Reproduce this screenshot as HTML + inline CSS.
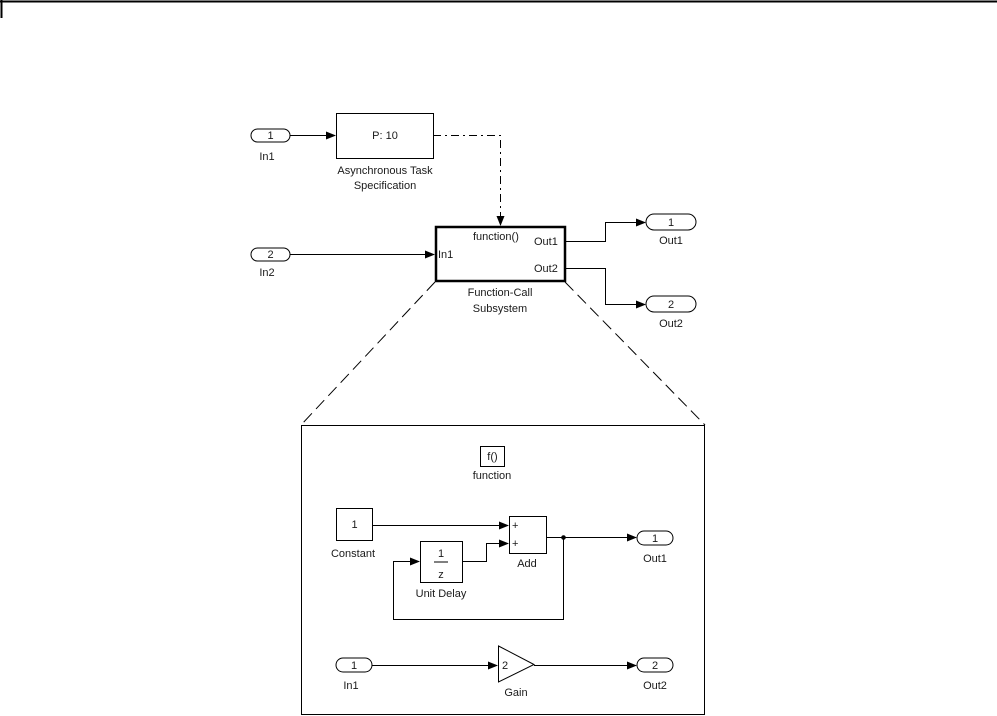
<!DOCTYPE html>
<html><head><style>
html,body{margin:0;padding:0;background:#fff;}
svg{display:block;}
text{font-family:"Liberation Sans",Arial,sans-serif;font-size:11px;fill:#1a1a1a;}
</style></head><body>
<svg width="997" height="716" viewBox="0 0 997 716" xmlns="http://www.w3.org/2000/svg">
<defs>
<marker id="a" markerWidth="10" markerHeight="10" refX="9" refY="5" orient="auto" markerUnits="userSpaceOnUse">
<path d="M0,1 L10,5 L0,9 Z" fill="#000"/></marker>
</defs>
<g stroke="#000" fill="none" stroke-width="1">
<line x1="0" y1="1.5" x2="997" y2="1.5" stroke-width="2"/>
<line x1="1.5" y1="0" x2="1.5" y2="18" stroke-width="2"/>

<!-- top -->
<rect x="251" y="129" width="39" height="13" rx="6.5"/>
<line x1="290" y1="135.5" x2="335" y2="135.5" marker-end="url(#a)"/>
<rect x="336.5" y="113.5" width="97" height="45"/>
<polyline points="433,135.5 500.5,135.5 500.5,225" stroke-dasharray="8,4,2,4" marker-end="url(#a)"/>
<rect x="436" y="227" width="129" height="54" stroke-width="2.5"/>
<rect x="251" y="248" width="39" height="13" rx="6.5"/>
<line x1="290" y1="254.5" x2="434" y2="254.5" marker-end="url(#a)"/>
<polyline points="566,241.5 605.5,241.5 605.5,222.5 645,222.5" marker-end="url(#a)"/>
<rect x="646" y="214" width="50" height="16" rx="8"/>
<polyline points="566,268.5 605.5,268.5 605.5,304.5 645,304.5" marker-end="url(#a)"/>
<rect x="646" y="296" width="50" height="16" rx="8"/>

<line x1="435" y1="282" x2="301" y2="425" stroke-dasharray="12,6"/>
<line x1="565" y1="282" x2="705" y2="425" stroke-dasharray="12,6"/>

<!-- bottom box -->
<rect x="301.5" y="425.5" width="403" height="289"/>
<rect x="480.5" y="446.5" width="24" height="20"/>
<rect x="336.5" y="508.5" width="36" height="32"/>
<rect x="509.5" y="516.5" width="37" height="37"/>
<rect x="420.5" y="541.5" width="42" height="41"/>
<line x1="434" y1="562" x2="448" y2="562"/>
<line x1="372" y1="525.5" x2="508" y2="525.5" marker-end="url(#a)"/>
<polyline points="463,561.5 486.5,561.5 486.5,543.5 508,543.5" marker-end="url(#a)"/>
<line x1="546" y1="537.5" x2="636" y2="537.5" marker-end="url(#a)"/>
<circle cx="563.5" cy="537.5" r="1.8" fill="#000"/>
<polyline points="563.5,537.5 563.5,619.5 393.5,619.5 393.5,561.5 419,561.5" marker-end="url(#a)"/>
<rect x="637" y="531" width="36" height="14" rx="7"/>
<rect x="336" y="658" width="36" height="14" rx="7"/>
<line x1="372" y1="665.5" x2="497" y2="665.5" marker-end="url(#a)"/>
<polygon points="498.5,646 534,664.5 498.5,682"/>
<line x1="534" y1="665.5" x2="636" y2="665.5" marker-end="url(#a)"/>
<rect x="637" y="658" width="36" height="14" rx="7"/>
</g>

<g text-anchor="middle">
<text x="270.5" y="139">1</text>
<text x="267" y="160">In1</text>
<text x="385" y="139">P: 10</text>
<text x="385" y="174">Asynchronous Task</text>
<text x="385" y="189">Specification</text>
<text x="270.5" y="258">2</text>
<text x="267" y="276">In2</text>
<text x="671" y="226">1</text>
<text x="671" y="244">Out1</text>
<text x="671" y="308">2</text>
<text x="671" y="327">Out2</text>
<text x="500" y="296">Function-Call</text>
<text x="500" y="312">Subsystem</text>
<text x="492.5" y="460" font-size="10">f()</text>
<text x="492" y="479">function</text>
<text x="354.5" y="528">1</text>
<text x="353" y="557">Constant</text>
<text x="441" y="557">1</text>
<text x="441" y="578">z</text>
<text x="441" y="597">Unit Delay</text>
<text x="527" y="567">Add</text>
<text x="655" y="542">1</text>
<text x="655" y="562">Out1</text>
<text x="354" y="669">1</text>
<text x="351" y="689">In1</text>
<text x="516" y="696">Gain</text>
<text x="655" y="669">2</text>
<text x="655" y="689">Out2</text>
</g>
<text x="473" y="240" font-size="10">function()</text>
<text x="534" y="245">Out1</text>
<text x="534" y="272">Out2</text>
<text x="438" y="258">In1</text>
<text x="512" y="529">+</text>
<text x="512" y="547">+</text>
<text x="502" y="669">2</text>
</svg>
</body></html>
